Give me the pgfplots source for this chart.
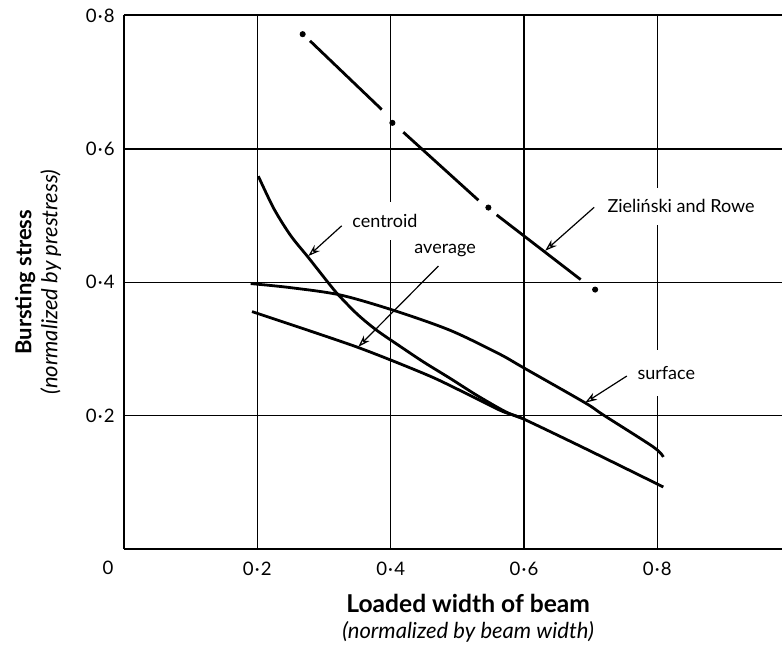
\documentclass[border=0pt]{standalone}
\usepackage{pgfplots}
\pgfplotsset{compat=1.18}
\usepackage{fontspec}
\setmainfont{Lato}
\usetikzlibrary{arrows.meta}
\newcommand{\md}{{\kern0.6pt·\kern0.6pt}}
\begin{document}
\begin{tikzpicture}
\useasboundingbox (0,0) rectangle (391pt,323pt);
\begin{axis}[
  at={(62pt,48.5pt)}, anchor=south west,
  scale only axis, width=329pt, height=266.75pt,
  xmin=0, xmax=0.987, ymin=0, ymax=0.8,
  axis x line*=bottom, axis y line*=left,
  axis line style={line width=1pt},
  clip=false,
  xtick={0.2,0.4,0.6,0.8}, ytick={0.2,0.4,0.6,0.8},
  xticklabels={0\md2,0\md4,0\md6,0\md8},
  yticklabels={0\md2,0\md4,0\md6,0\md8},
  major tick length=0pt,
  tick label style={font=\fontsize{9.3}{10}\selectfont},
  yticklabel style={anchor=east, inner sep=0pt, xshift=-4.5pt},
  xticklabel style={anchor=north, inner sep=0pt, yshift=-6.5pt},
  grid=major,
  major grid style={black, line width=0.65pt},
  xlabel={{\fontsize{12.3}{14}\selectfont\bfseries Loaded width of beam}\\[1pt]{\fontsize{11}{14}\selectfont\itshape (normalized by beam width)}},
  xlabel style={align=center, at={(axis description cs:0.523,-0.129)}, anchor=center},
  ylabel={{\fontsize{11}{14}\selectfont\bfseries Bursting stress}\\[1pt]{\fontsize{11}{14}\selectfont\itshape (normalized by prestress)}},
  ylabel style={align=center, at={(axis description cs:-0.1307,0.5)}, anchor=center},
]
% surface
\addplot[black, line width=1.4pt, smooth, tension=0.5] coordinates {
(0.19,0.398)(0.249,0.392)(0.324,0.381)(0.404,0.358)(0.489,0.328)(0.562,0.293)
(0.599,0.272)(0.692,0.219)(0.719,0.201)(0.794,0.153)(0.809,0.138)};
% average
\addplot[black, line width=1.4pt, smooth, tension=0.4] coordinates {
(0.192,0.356)(0.349,0.303)(0.464,0.257)(0.564,0.208)(0.597,0.196)(0.689,0.152)(0.809,0.093)};
% centroid
\addplot[black, line width=1.4pt, smooth, tension=0.5] coordinates {
(0.2015,0.559)(0.225,0.510)(0.25,0.470)(0.2766,0.437)(0.3066,0.399)(0.3216,0.381)
(0.35,0.352)(0.379,0.328)(0.414,0.304)(0.45,0.280)(0.489,0.256)(0.53,0.230)(0.572,0.206)(0.597,0.196)};
% Zielinski and Rowe (chain line)
\addplot[black, line width=1.4pt, no markers] coordinates {(0.279,0.762)(0.3866,0.659)};
\addplot[black, line width=1.4pt, no markers] coordinates {(0.419,0.625)(0.5316,0.523)};
\addplot[black, line width=1.4pt, no markers] coordinates {(0.559,0.501)(0.685,0.404)};
\addplot[black, only marks, mark=*, mark size=1.3pt] coordinates {
(0.268,0.772)(0.4026,0.639)(0.5466,0.512)(0.7067,0.389)};
\draw[line width=1pt] (rel axis cs:0,1) -- (rel axis cs:1,1);
% annotations
\begin{scope}[font=\fontsize{9}{10}\selectfont]
\node[anchor=west, fill=white, inner xsep=1pt, inner ysep=6pt] at (axis cs:0.339,0.492) {centroid};
\node[anchor=west, fill=white, inner xsep=1pt, inner ysep=2pt] at (axis cs:0.4321,0.448) {average};
\node[anchor=west, fill=white, inner xsep=1pt, inner ysep=6pt] at (axis cs:0.7217,0.514) {Zieliński and Rowe};
\node[anchor=west, fill=white, inner xsep=1pt, inner ysep=8pt] at (axis cs:0.7667,0.264) {surface};
\node[anchor=center] at (axis cs:0,0) [xshift=-8pt, yshift=-9.5pt, font=\fontsize{9.3}{10}\selectfont] {0};
\end{scope}
\begin{scope}[line width=0.6pt, -{Stealth[open, length=6pt, width=4pt]}]
\draw (axis cs:0.3266,0.4847) -- (axis cs:0.2765,0.4393);
\draw (axis cs:0.4716,0.4243) -- (axis cs:0.3515,0.3033);
\draw (axis cs:0.7052,0.5123) -- (axis cs:0.6317,0.4472);
\draw (axis cs:0.7543,0.2594) -- (axis cs:0.6917,0.2193);
\end{scope}
\end{axis}
\end{tikzpicture}
\end{document}
